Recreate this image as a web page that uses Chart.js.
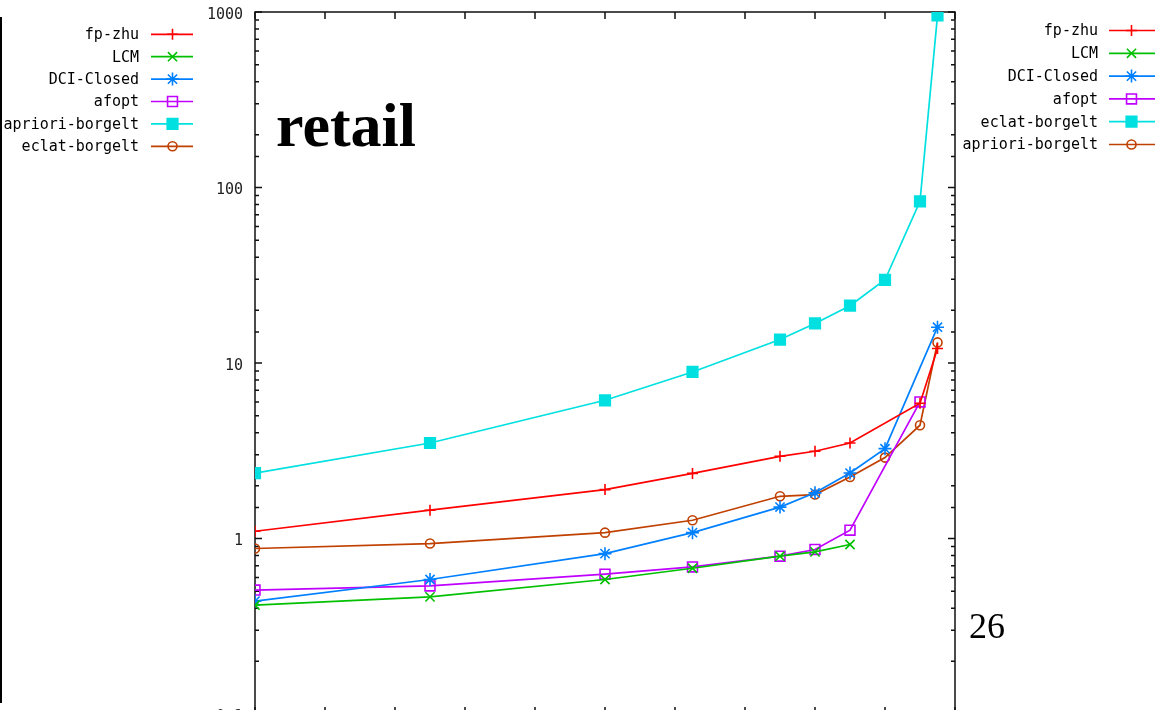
<!DOCTYPE html>
<html>
<head>
<meta charset="utf-8">
<script src="https://cdn.jsdelivr.net/npm/chart.js@4/dist/chart.umd.min.js"></script>
<style>
  html, body { margin: 0; padding: 0; background: #fff; overflow: hidden; }
  #wrap { position: relative; width: 1157px; height: 760px; }
</style>
</head>
<body>
<div id="wrap"><canvas id="retailChart" width="1157" height="760"></canvas></div>
<script>
// x positions of the runs (in x-tick units, axis runs 0..10)
var xValues = [0, 2.5, 5, 6.25, 7.5, 8, 8.5, 9, 9.5, 9.75];

// run times, log scale (null = no point at that x)
var fpZhu   = [1.10, 1.45, 1.90, 2.35, 2.94, 3.14, 3.50, null, 5.90, 12.1];
var lcm     = [0.417, 0.465, 0.584, 0.677, 0.793, 0.839, 0.924, null, null, null];
var dciClosed = [0.44, 0.584, 0.82, 1.08, 1.51, 1.82, 2.36, 3.25, null, 16.0];
var afopt   = [0.508, 0.537, 0.626, 0.689, 0.793, 0.866, 1.115, null, 6.0, null];
var aprioriBorgelt = [2.36, 3.50, 6.13, 8.89, 13.6, 16.8, 21.2, 29.8, 83.4, 955];
var eclatBorgelt   = [0.877, 0.936, 1.08, 1.27, 1.74, 1.78, 2.24, 2.89, 4.42, 13.1];

var seriesNames = ['fp-zhu', 'LCM', 'DCI-Closed', 'afopt', 'apriori-borgelt', 'eclat-borgelt'];
// the right-hand key has the two borgelt labels the other way round
var rightKeyNames = ['fp-zhu', 'LCM', 'DCI-Closed', 'afopt', 'eclat-borgelt', 'apriori-borgelt'];
var yTickValues = [0.1, 1, 10, 100, 1000];

var titleText = 'retail';
var pageText = '26';

function toPoints(arr) {
  var pts = [];
  for (var i = 0; i < arr.length; i++) {
    if (arr[i] !== null) pts.push({ x: xValues[i], y: arr[i] });
  }
  return pts;
}

var styles = [
  { color: '#ff0000', pointStyle: 'cross',    radius: 5.5, fill: 'rgba(0,0,0,0)' },
  { color: '#00c000', pointStyle: 'crossRot', radius: 6.5, fill: 'rgba(0,0,0,0)' },
  { color: '#0080ff', pointStyle: 'star',     radius: 6.5, fill: '#0080ff' },
  { color: '#c000ff', pointStyle: 'rect',     radius: 7,   fill: 'rgba(0,0,0,0)' },
  { color: '#00e0e0', pointStyle: 'rect',     radius: 7.5, fill: '#00e0e0' },
  { color: '#c04000', pointStyle: 'circle',   radius: 4.5, fill: 'rgba(0,0,0,0)' }
];
var seriesData = [fpZhu, lcm, dciClosed, afopt, aprioriBorgelt, eclatBorgelt];

var datasetsRetail = [];
for (var s = 0; s < seriesData.length; s++) {
  datasetsRetail.push({
    label: seriesNames[s],
    data: toPoints(seriesData[s]),
    borderColor: styles[s].color,
    backgroundColor: styles[s].fill,
    borderWidth: 1.7,
    pointStyle: styles[s].pointStyle,
    pointRadius: styles[s].radius,
    pointBorderWidth: 1.6,
    pointBorderColor: styles[s].color,
    pointBackgroundColor: styles[s].fill,
    tension: 0,
    fill: false
  });
}

function isPow10(v) {
  var l = Math.log10(v);
  return Math.abs(l - Math.round(l)) < 1e-9;
}

var monoFont = '15px "DejaVu Sans Mono"';

function drawKey(ctx, names, textRight, lineX1, lineX2, markX, y0, dy) {
  ctx.save();
  ctx.font = monoFont;
  ctx.textAlign = 'right';
  ctx.textBaseline = 'middle';
  for (var i = 0; i < names.length; i++) {
    // each key row keeps the style of that row's dataset
    var st = styles[i];
    var y = y0 + dy * i;
    ctx.fillStyle = '#000';
    ctx.fillText(names[i], textRight, y + 1);
    ctx.strokeStyle = st.color;
    ctx.lineWidth = 1.7;
    ctx.beginPath();
    ctx.moveTo(lineX1, y);
    ctx.lineTo(lineX2, y);
    ctx.stroke();
    ctx.fillStyle = st.fill;
    ctx.lineWidth = 1.6;
    Chart.helpers.drawPoint(ctx, { pointStyle: st.pointStyle, radius: st.radius, rotation: 0, borderWidth: 1.6 }, markX, y);
  }
  ctx.restore();
}

var framePlugin = {
  id: 'framePlugin',
  beforeDatasetsDraw: function (chart) {
    var ctx = chart.ctx, a = chart.chartArea;
    var xs = chart.scales.x, ys = chart.scales.y;
    ctx.save();
    ctx.strokeStyle = '#111';
    ctx.lineWidth = 1.5;
    ctx.strokeRect(a.left, a.top, a.right - a.left, a.bottom - a.top);
    ctx.beginPath();
    ys.ticks.forEach(function (t) {
      var y = ys.getPixelForValue(t.value);
      var len = isPow10(t.value) ? 7 : 4;
      ctx.moveTo(a.left, y); ctx.lineTo(a.left + len, y);
      ctx.moveTo(a.right, y); ctx.lineTo(a.right - len, y);
    });
    xs.ticks.forEach(function (t) {
      var x = xs.getPixelForValue(t.value);
      ctx.moveTo(x, a.top); ctx.lineTo(x, a.top + 7);
      ctx.moveTo(x, a.bottom); ctx.lineTo(x, a.bottom - 7);
    });
    ctx.stroke();
    ctx.restore();
  },
  afterDraw: function (chart) {
    var ctx = chart.ctx;
    drawKey(ctx, seriesNames, 139, 151, 193, 172.5, 34.3, 22.4);
    drawKey(ctx, rightKeyNames, 1098, 1109, 1155, 1131.5, 30.5, 22.8);

    ctx.save();
    // stray frame line at the far left
    ctx.strokeStyle = '#000';
    ctx.lineWidth = 2;
    ctx.beginPath();
    ctx.moveTo(1, 17); ctx.lineTo(1, 703);
    ctx.stroke();

    ctx.fillStyle = '#000';
    ctx.textAlign = 'left';
    ctx.textBaseline = 'alphabetic';
    ctx.font = 'bold 62px "Liberation Serif"';
    ctx.fillText(titleText, 276, 146);
    ctx.font = '36px "Liberation Serif"';
    ctx.fillText(pageText, 969, 638);
    ctx.restore();
  }
};

var configRetail = {
  type: 'line',
  data: { datasets: datasetsRetail },
  options: {
    responsive: false,
    animation: false,
    layout: { padding: { top: 12, right: 202, left: 0, bottom: 0 } },
    plugins: {
      legend: { display: false },
      tooltip: { enabled: false }
    },
    scales: {
      x: {
        type: 'linear',
        min: 0,
        max: 10,
        ticks: { stepSize: 1, display: false },
        grid: { display: false },
        border: { display: false },
        afterFit: function (scale) {
          scale.height = 46;
          scale.paddingLeft = 0; scale.paddingRight = 0;
        }
      },
      y: {
        type: 'logarithmic',
        min: 0.1,
        max: 1000,
        grid: { display: false },
        border: { display: false },
        ticks: {
          autoSkip: false,
          padding: 4,
          labelOffset: 3,
          color: '#222',
          font: { family: 'DejaVu Sans Mono', size: 15 },
          callback: function (value) {
            return yTickValues.some(function (v) { return Math.abs(v - value) < 1e-9; }) ? String(value) : '';
          }
        },
        afterFit: function (scale) {
          scale.width = 255;
          scale.paddingTop = 0; scale.paddingBottom = 0;
        }
      }
    }
  },
  plugins: [framePlugin]
};

function showChartRetail() {
  var ctxRetail = document.getElementById('retailChart');
  var old = Chart.getChart(ctxRetail);
  if (old) old.destroy();
  new Chart(ctxRetail, configRetail);
}
showChartRetail();
</script>
</body>
</html>
